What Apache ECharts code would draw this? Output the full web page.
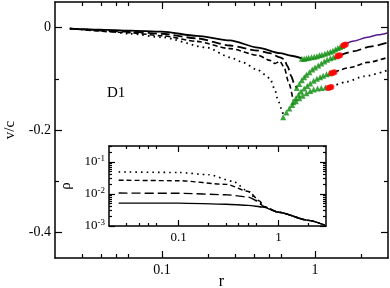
<!DOCTYPE html>
<html><head><meta charset="utf-8">
<script src="https://cdn.jsdelivr.net/npm/echarts@6/dist/echarts.min.js"></script>
<style>html,body{margin:0;padding:0;background:#fff}#c{width:390px;height:288px}</style>
</head><body><div id="c"></div>
<script>
// ---------- data (r, v/c) main panel ----------
const solidMain = [[0.025,-0.002],[0.039,-0.004],[0.062,-0.006],[0.1,-0.008],[0.169,-0.016],[0.278,-0.025],[0.424,-0.039],[0.59,-0.050],[0.7,-0.055],[0.82,-0.060]];
const solidRight = [[1.57,-0.032],[1.8,-0.026],[2.2,-0.019],[2.6,-0.014],[3,-0.010]];
const longMain = [[0.025,-0.002],[0.062,-0.008],[0.1,-0.012],[0.169,-0.021],[0.278,-0.035],[0.424,-0.045],[0.508,-0.050],[0.59,-0.058],[0.63,-0.062],[0.66,-0.075],[0.70,-0.095],[0.73,-0.109],[0.76,-0.118]];
const longRight = [[1.46,-0.054],[1.8,-0.046],[2.3,-0.037],[3,-0.029]];
const medMain = [[0.025,-0.002],[0.062,-0.010],[0.1,-0.016],[0.169,-0.027],[0.278,-0.041],[0.424,-0.054],[0.508,-0.064],[0.548,-0.070],[0.59,-0.066],[0.63,-0.078],[0.67,-0.105],[0.72,-0.142]];
const medRight = [[1.34,-0.087],[1.7,-0.078],[2.2,-0.068],[3,-0.058]];
const dotMain = [[0.025,-0.002],[0.039,-0.005],[0.062,-0.012],[0.1,-0.019],[0.197,-0.039],[0.278,-0.058],[0.338,-0.068],[0.424,-0.083],[0.508,-0.099],[0.548,-0.122],[0.573,-0.142],[0.609,-0.161],[0.62,-0.172]];
const dotRight = [[1.28,-0.116],[1.6,-0.106],[2.1,-0.095],[3,-0.083]];
const tri1 = [[0.82,-0.061],[0.85,-0.061],[0.88,-0.060],[0.91,-0.059],[0.95,-0.058],[0.99,-0.057],[1.03,-0.056],[1.07,-0.054],[1.11,-0.053],[1.16,-0.051],[1.21,-0.049],[1.26,-0.047],[1.31,-0.045],[1.36,-0.043],[1.41,-0.040],[1.46,-0.038],[1.51,-0.036]];
const tri2 = [[0.76,-0.118],[0.79,-0.110],[0.82,-0.103],[0.85,-0.097],[0.88,-0.092],[0.92,-0.087],[0.96,-0.082],[1.0,-0.078],[1.05,-0.074],[1.1,-0.070],[1.15,-0.066],[1.2,-0.063],[1.26,-0.060],[1.32,-0.058],[1.38,-0.056]];
const tri3 = [[0.72,-0.146],[0.75,-0.138],[0.78,-0.131],[0.81,-0.125],[0.85,-0.119],[0.89,-0.114],[0.93,-0.109],[0.98,-0.104],[1.03,-0.100],[1.08,-0.097],[1.13,-0.094],[1.19,-0.091],[1.25,-0.089]];
const tri4 = [[0.62,-0.175],[0.65,-0.166],[0.68,-0.158],[0.71,-0.151],[0.75,-0.144],[0.79,-0.138],[0.83,-0.133],[0.88,-0.128],[0.93,-0.124],[0.98,-0.121],[1.04,-0.119],[1.1,-0.118],[1.17,-0.117]];
const redPts = [[1.53,-0.035],[1.56,-0.034],[1.59,-0.033],[1.40,-0.056],[1.43,-0.055],[1.46,-0.054],[1.28,-0.089],[1.31,-0.088],[1.34,-0.087],[1.22,-0.118],[1.25,-0.117],[1.28,-0.116]];
// ---------- inset (r, rho) ----------
const solidIn = [[0.025,0.0052],[0.1,0.0052],[0.3,0.0048],[0.5,0.0044],[0.7,0.0039],[1,0.0027],[2,0.0015],[2.9,0.00107]];
const longIn = [[0.025,0.0107],[0.1,0.0105],[0.3,0.0095],[0.5,0.008],[0.65,0.0055],[0.7,0.0041],[1,0.0027],[2,0.0015],[2.9,0.00107]];
const medIn = [[0.025,0.027],[0.1,0.026],[0.3,0.02],[0.5,0.012],[0.65,0.006],[0.72,0.0040],[1,0.0027],[2,0.0015],[2.9,0.00107]];
const dotIn = [[0.025,0.049],[0.1,0.047],[0.2,0.04],[0.35,0.025],[0.5,0.012],[0.62,0.006],[0.7,0.0041],[1,0.0027],[2,0.0015],[2.9,0.00107]];
// ---------- ticks ----------
const xMajor = [0.1, 1];
const xMinor = [0.03,0.04,0.05,0.06,0.2,0.3,0.4,0.5,0.6,2];
const yMajor = [-0.4,-0.2,0];
const yMinor = [-0.3,-0.1];
const rhoMajor = [0.001,0.01,0.1];
const rhoMinor = [0.002,0.003,0.004,0.005,0.006,0.007,0.008,0.009,0.02,0.03,0.04,0.05,0.06,0.07,0.08,0.09,0.2,0.3];

const FONT = 'Liberation Serif';
const K = '#000';
function xAx(grid, pos, ticks, len, labels, line, fs){
  return {type:'log', gridIndex:grid, position:pos, min:0.02, max:3, logBase:10,
    axisLine:{show:line, onZero:false, lineStyle:{color:K,width:1.5}},
    axisTick:{show:true, inside:true, length:len, customValues:ticks, lineStyle:{color:K,width:1.2}},
    axisLabel:{show:labels, customValues:ticks, margin:5, color:K, fontFamily:FONT, fontSize:fs,
      formatter:v=> (v>=1? String(Math.round(v)) : String(+v.toPrecision(1)))},
    splitLine:{show:false}, minorTick:{show:false}};
}
function yAx(grid, pos, type, min, max, ticks, len, labels, line, fmt){
  return {type:type, gridIndex:grid, position:pos, min:min, max:max,
    axisLine:{show:line, onZero:false, lineStyle:{color:K,width:1.5}},
    axisTick:{show:true, inside:true, length:len, customValues:ticks, lineStyle:{color:K,width:1.2}},
    axisLabel:{show:labels, customValues:ticks, margin:4, color:K, fontFamily:FONT, fontSize:14, formatter:fmt,
      rich:{b:{fontFamily:FONT,fontSize:13,color:K}, s:{fontFamily:FONT,fontSize:9,color:K,verticalAlign:'top',padding:[0,0,7,0]}}},
    splitLine:{show:false}, minorTick:{show:false}};
}
const rhoFmt = v => '{b|10}{s|' + Math.round(Math.log10(v)) + '}';
const yFmt = v => (v===0 ? '0' : v.toFixed(1));

const xAxes = [
  Object.assign(xAx(0,'bottom',xMajor,7,true,true,14),{name:'r',nameLocation:'middle',nameGap:16,nameMoveOverlap:false,nameTextStyle:{fontFamily:FONT,fontSize:16,color:K}}),
  xAx(0,'bottom',xMinor,4,false,false,14),
  xAx(0,'top',xMajor,7,false,true,14),
  xAx(0,'top',xMinor,4,false,false,14),
  xAx(1,'bottom',xMajor,6,true,true,13),
  xAx(1,'bottom',xMinor,3,false,false,13),
  xAx(1,'top',xMajor,6,false,true,13),
  xAx(1,'top',xMinor,3,false,false,13)
];
const yAxes = [
  Object.assign(yAx(0,'left','value',-0.45,0.05,yMajor,7,true,true,yFmt),{name:'v/c',nameLocation:'middle',nameGap:36,nameRotate:90,nameTextStyle:{fontFamily:FONT,fontSize:15,color:K}}),
  yAx(0,'left','value',-0.45,0.05,yMinor,4,false,false,yFmt),
  yAx(0,'right','value',-0.45,0.05,yMajor,7,false,true,yFmt),
  yAx(0,'right','value',-0.45,0.05,yMinor,4,false,false,yFmt),
  Object.assign(yAx(1,'left','log',0.001,0.316,rhoMajor,6,true,true,rhoFmt),{name:'ρ',nameLocation:'middle',nameGap:28,nameRotate:90,nameTextStyle:{fontFamily:FONT,fontSize:15,color:K}}),
  yAx(1,'left','log',0.001,0.316,rhoMinor,3,false,false,rhoFmt),
  yAx(1,'right','log',0.001,0.316,rhoMajor,6,false,true,rhoFmt),
  yAx(1,'right','log',0.001,0.316,rhoMinor,3,false,false,rhoFmt)
];

function line(data, type, width, color, xi, yi){
  return {type:'line', data:data, xAxisIndex:xi, yAxisIndex:yi, showSymbol:false, symbol:'none', smooth:0.25, smoothMonotone:'x',
    z:2, lineStyle:{color:color||K, width:width, type:type, cap:'butt'}, animation:false};
}
const LD=[9,4], MD=[5,3], DT=[1.6,4];
const series = [
  line(solidMain,'solid',1.8,K,0,0),
  line(solidRight,'solid',1.5,'#551a8b',0,0),
  line(longMain,LD,1.8,K,0,0),
  line(longRight,LD,1.8,K,0,0),
  line(medMain,MD,1.6,K,0,0),
  line(medRight,MD,1.6,K,0,0),
  line(dotMain,DT,1.8,K,0,0),
  line(dotRight,DT,1.8,K,0,0),
  ...[tri1,tri2,tri3,tri4].map(d=>({type:'scatter',data:d,xAxisIndex:0,yAxisIndex:0,symbol:'triangle',symbolSize:6,itemStyle:{color:'#0c8c0c'},z:5,animation:false})),
  {type:'scatter',data:redPts,xAxisIndex:0,yAxisIndex:0,symbol:'circle',symbolSize:6,itemStyle:{color:'#ff0000'},z:6,animation:false},
  line(solidIn,'solid',1.4,K,4,4),
  line(longIn,LD,1.4,K,4,4),
  line(medIn,MD,1.4,K,4,4),
  line(dotIn,DT,1.6,K,4,4)
];

const chart = echarts.init(document.getElementById('c'), null, {renderer:'canvas'});
chart.setOption({
  animation:false,
  backgroundColor:'#fff',
  grid:[{left:55,top:2,right:2,bottom:30,containLabel:false,outerBoundsMode:'none'},
        {left:109,top:146,width:217,height:80,containLabel:false,outerBoundsMode:'none',show:true,backgroundColor:'#fff',borderWidth:0}],
  xAxis:xAxes, yAxis:yAxes, series:series,
  graphic:[{type:'text',left:107,top:86,style:{text:'D1',fontFamily:FONT,fontSize:15,fill:K}}]
});
</script></body></html>
